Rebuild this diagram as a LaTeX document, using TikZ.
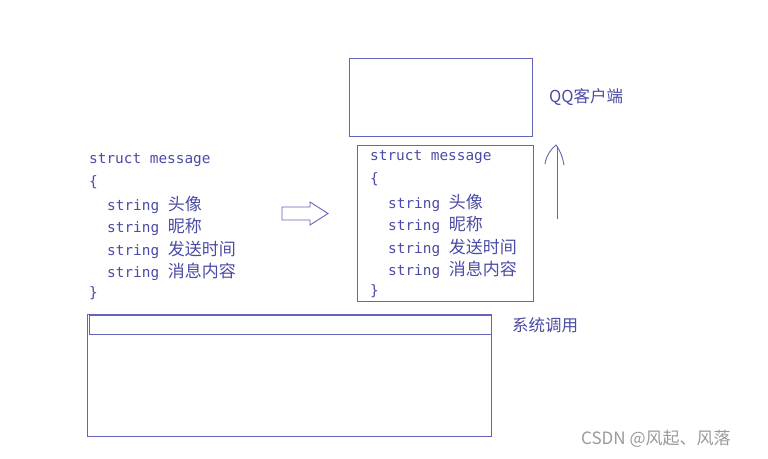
\documentclass[tikz,border=0pt]{standalone}
\usepackage{fontspec}
\setmainfont{DejaVu Sans Mono}
\newfontfamily\cjk{Noto Sans CJK SC}
\newcommand\zh[1]{{\cjk\fontsize{17}{18}\selectfont #1}}
\definecolor{txt}{HTML}{4B4BA6}
\definecolor{ln}{HTML}{6464B8}
\definecolor{wm}{HTML}{9A9A9A}
\tikzset{
  codeline/.style={anchor=west, inner sep=0pt, text=txt, font=\fontsize{14.4}{16}\selectfont},
  lbl/.style={anchor=west, inner sep=0pt, text=txt, font=\cjk\fontsize{16.5}{18}\selectfont},
  boxline/.style={draw=ln, line width=0.9pt}
}
\begin{document}
\begin{tikzpicture}[x=1pt,y=-1pt]
\useasboundingbox (0,0) rectangle (768,458);
% QQ client box
\draw[boxline] (349,58) rectangle (532,136);
\node[lbl] (qq) at (549,97) {QQ客户端};
% right struct box
\draw[boxline] (357,145) rectangle (533,301);
% left struct
\node[codeline] (a1) at (89,160) {struct message};
\node[codeline] (a2) at (89,182) {\{};
\node[codeline] (a3) at (107,205) {string \zh{头像}};
\node[codeline] (a4) at (107,227) {string \zh{昵称}};
\node[codeline] (a5) at (107,250) {string \zh{发送时间}};
\node[codeline] (a6) at (107,272) {string \zh{消息内容}};
\node[codeline] (a7) at (89,293) {\}};
% right struct
\node[codeline] (b1) at (370,157) {struct message};
\node[codeline] (b2) at (370,179) {\{};
\node[codeline] (b3) at (388,203) {string \zh{头像}};
\node[codeline] (b4) at (388,225) {string \zh{昵称}};
\node[codeline] (b5) at (388,248) {string \zh{发送时间}};
\node[codeline] (b6) at (388,270) {string \zh{消息内容}};
\node[codeline] (b7) at (370,291) {\}};
% hollow arrow
\draw[draw=ln, line width=0.9pt, line join=miter] (282,207) -- (310,207) -- (310,202) -- (328,213.5) -- (310,225) -- (310,220) -- (282,220) -- cycle;
% hand-drawn up arrow
\coordinate (ut) at (557,219);
\coordinate (uh) at (557,146);
\draw[ln, line width=0.9pt] (ut) -- (uh);
\draw[ln, line width=0.9pt, line cap=round] (545,164) .. controls (546,156) and (551,149) .. (556,145) .. controls (560,150) and (563,158) .. (564,165);
% bottom system box
\draw[boxline] (87,314) rectangle (491,436);
\draw[boxline] (89,315) rectangle (491,334);
\node[lbl] (sys) at (512,325) {系统调用};
% watermark
\node[anchor=west, inner sep=0pt, text=wm, font=\cjk\fontsize{17}{18}\selectfont] (wm) at (581,439) {CSDN @风起、风落};
\end{tikzpicture}
\end{document}
